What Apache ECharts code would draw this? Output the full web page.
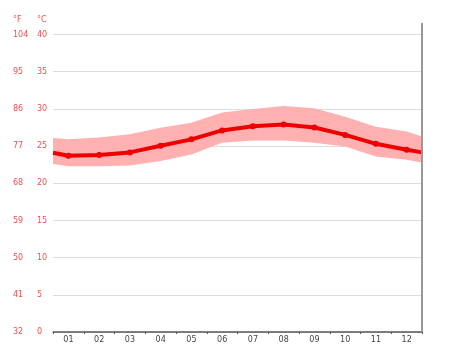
<!DOCTYPE html>
<html><head><meta charset="utf-8">
<script src="https://cdn.jsdelivr.net/npm/echarts@6/dist/echarts.min.js"></script>
<style>html,body{margin:0;padding:0;background:#fff}#c{width:474px;height:355px}</style>
</head><body><div id="c"></div>
<script>
var months = ['01','02','03','04','05','06','07','08','09','10','11','12'];
// x positions: left edge, months 1..12, right edge
var xPos = [0.5,1,2,3,4,5,6,7,8,9,10,11,12,12.5];
var meanTemp = [24.1,23.7,23.8,24.15,25.05,25.9,27.1,27.65,27.9,27.5,26.5,25.3,24.5,24.15];
var maxTemp  = [26.1,25.9,26.15,26.6,27.45,28.15,29.5,30.0,30.4,30.1,28.95,27.6,26.95,26.3];
var minTemp  = [22.6,22.3,22.3,22.4,23.0,23.85,25.45,25.75,25.75,25.45,24.95,23.6,23.15,22.8];
var celsiusTicks = [0,5,10,15,20,25,30,35,40];
var fahrenheitTicks = [32,41,50,59,68,77,86,95,104];

var bandRows = xPos.map(function(x,i){return [x, minTemp[i], maxTemp[i]];});
var meanData = xPos.map(function(x,i){return [x, meanTemp[i]];});
var meanSymbols = xPos.map(function(x,i){return (i===0||i===xPos.length-1)?'none':'circle';});

var chart = echarts.init(document.getElementById('c'));
var font = 'DejaVu Sans';
var red = '#ee5050';
chart.setOption({
  animation:false,
  grid:{left:53,right:52,top:34.5,bottom:23},
  xAxis:[
    {type:'category',data:months,boundaryGap:true,
     axisLine:{lineStyle:{color:'#555',width:1.5}},
     axisTick:{show:true,length:2,lineStyle:{color:'#555'}},
     axisLabel:{color:'#444',fontSize:8,fontFamily:font,margin:4},
     splitLine:{show:false}},
    {type:'value',min:0.5,max:12.5,show:false}
  ],
  yAxis:[
    {type:'value',min:0,max:40,interval:5,position:'left',
     axisLine:{show:false},axisTick:{show:false},
     axisLabel:{color:red,fontSize:8,fontFamily:font,align:'left',margin:16,
       formatter:function(v){return celsiusTicks.indexOf(v)>=0?String(v):'';}},
     splitLine:{lineStyle:{color:'#dddddd',width:1}}},
    {type:'value',min:32,max:104,interval:9,position:'left',
     axisLine:{show:false},axisTick:{show:false},
     axisLabel:{color:red,fontSize:8,fontFamily:font,align:'left',margin:40,
       formatter:function(v){return fahrenheitTicks.indexOf(v)>=0?String(v):'';}},
     splitLine:{show:false}}
  ],
  graphic:[
    {type:'text',left:13,top:16,style:{text:'°F',fill:red,font:'8px "DejaVu Sans"'}},
    {type:'text',left:37,top:16,style:{text:'°C',fill:red,font:'8px "DejaVu Sans"'}},
    {type:'line',shape:{x1:422,y1:23,x2:422,y2:332},style:{stroke:'#999',lineWidth:2},z:10}
  ],
  series:[
    {type:'custom',xAxisIndex:1,yAxisIndex:0,data:bandRows,silent:true,z:1,
     encode:{x:0,y:[1,2]},
     renderItem:function(params,api){
       if(params.dataIndex!==0) return null;
       var pts=[],i;
       for(i=0;i<bandRows.length;i++) pts.push(api.coord([bandRows[i][0],bandRows[i][2]]));
       for(i=bandRows.length-1;i>=0;i--) pts.push(api.coord([bandRows[i][0],bandRows[i][1]]));
       return {type:'polygon',shape:{points:pts},style:{fill:'#ffb0b0'}};
     }},
    {type:'line',xAxisIndex:1,yAxisIndex:0,data:meanData,
     symbol:function(v,p){return meanSymbols[p.dataIndex];},symbolSize:6,
     itemStyle:{color:'#ee0000'},lineStyle:{color:'#ee0000',width:4},z:5}
  ]
});
</script></body></html>
